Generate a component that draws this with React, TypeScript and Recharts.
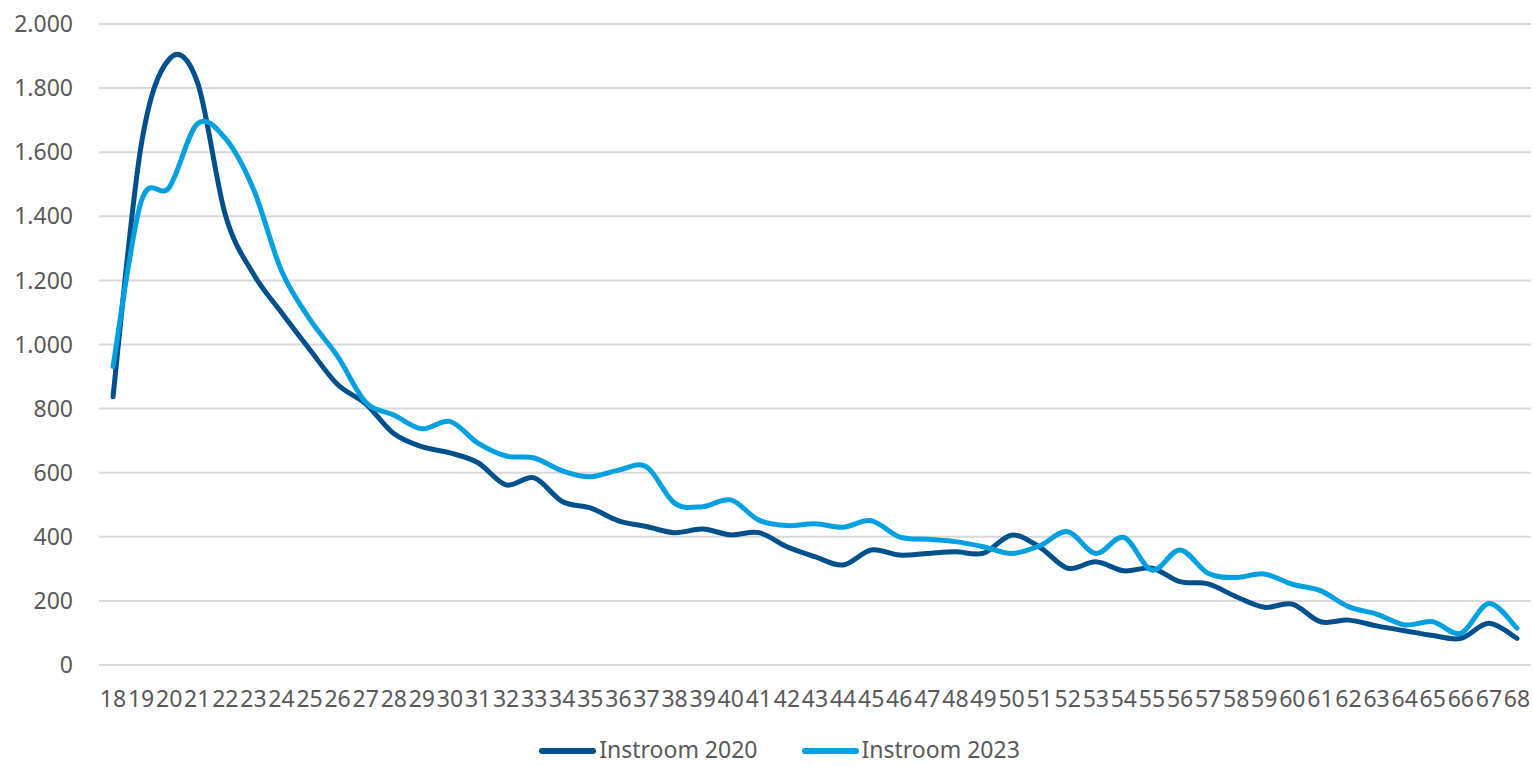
import { LineChart, Line, XAxis, YAxis, CartesianGrid, Legend } from 'recharts';

// ages 18..68
const ages = [
  18, 19, 20, 21, 22, 23, 24, 25, 26, 27, 28, 29, 30, 31, 32, 33, 34, 35, 36, 37, 38, 39, 40, 41, 42, 43,
  44, 45, 46, 47, 48, 49, 50, 51, 52, 53, 54, 55, 56, 57, 58, 59, 60, 61, 62, 63, 64, 65, 66, 67, 68,
];

const instroom2020 = [
  837, 1620, 1890, 1820, 1405, 1220, 1100, 985, 875, 815, 722, 681, 662, 631, 562, 584, 510, 490, 450, 432,
  413, 424, 406, 413, 369, 338, 312, 359, 343, 348, 353, 349, 405, 368, 302, 322, 294, 302, 260, 253, 213,
  180, 190, 135, 140, 122, 107, 92, 83, 130, 83,
];

const instroom2023 = [
  931, 1445, 1490, 1688, 1643, 1485, 1230, 1080, 963, 820, 780, 737, 760, 692, 652, 646, 606, 587, 608, 618,
  505, 494, 515, 452, 435, 441, 430, 450, 400, 392, 385, 369, 348, 372, 416, 348, 398, 296, 359, 286, 273,
  284, 252, 232, 182, 159, 125, 135, 99, 192, 115,
];

const yTicks = [0, 200, 400, 600, 800, 1000, 1200, 1400, 1600, 1800, 2000];

const series = [
  { key: 'y2020', name: 'Instroom 2020', color: '#00508C' },
  { key: 'y2023', name: 'Instroom 2023', color: '#00A0E1' },
];

const data = ages.map((age, i) => ({ age, y2020: instroom2020[i], y2023: instroom2023[i] }));

const FONT = '"Noto Sans", sans-serif';
const TEXT = '#595959';

// dutch thousands separator: 2000 -> 2.000
const fmt = (v: number) => String(v).replace(/\B(?=(\d{3})+(?!\d))/g, '.');

// Excel-like smoothed line (catmull-rom through the points)
function smoothCurve(context: any) {
  let pts: number[][] = [];
  return {
    areaStart() {},
    areaEnd() {},
    lineStart() {
      pts = [];
    },
    point(x: number, y: number) {
      pts.push([+x, +y]);
    },
    lineEnd() {
      if (!pts.length) return;
      context.moveTo(pts[0][0], pts[0][1]);
      for (let i = 0; i < pts.length - 1; i++) {
        const p0 = pts[i - 1] || pts[i];
        const p1 = pts[i];
        const p2 = pts[i + 1];
        const p3 = pts[i + 2] || p2;
        context.bezierCurveTo(
          p1[0] + (p2[0] - p0[0]) / 6,
          p1[1] + (p2[1] - p0[1]) / 6,
          p2[0] - (p3[0] - p1[0]) / 6,
          p2[1] - (p3[1] - p1[1]) / 6,
          p2[0],
          p2[1]
        );
      }
    },
  };
}

function LegendContent() {
  return (
    <div
      style={{
        height: 51,
        boxSizing: 'border-box',
        paddingTop: 23,
        paddingLeft: 28,
        display: 'flex',
        justifyContent: 'center',
        fontFamily: FONT,
        fontSize: 23,
        lineHeight: '23px',
        color: TEXT,
      }}
    >
      {series.map((s, idx) => (
        <div
          key={s.key}
          style={{ display: 'flex', alignItems: 'center', height: 23, marginLeft: idx ? 44 : 0 }}
        >
          <span
            style={{
              display: 'inline-block',
              width: 57,
              height: 6,
              borderRadius: 3,
              background: s.color,
              marginRight: 3,
              marginTop: 3,
            }}
          />
          <span>{s.name}</span>
        </div>
      ))}
    </div>
  );
}

export default function App() {
  return (
    <div style={{ position: 'absolute', left: 0, top: 0, background: '#fff' }}>
      <LineChart width={1533} height={766} data={data} margin={{ top: 24, right: 2, bottom: 0, left: 0 }}>
        <CartesianGrid vertical={false} stroke="#d9d9d9" strokeWidth={2} />
        <XAxis
          dataKey="age"
          interval={0}
          padding={{ left: 14, right: 14 }}
          axisLine={false}
          tickLine={false}
          tickSize={0}
          tickMargin={26}
          height={50}
          tick={{ fill: TEXT, fontSize: 23, fontFamily: FONT }}
        />
        <YAxis
          domain={[0, 2000]}
          ticks={yTicks}
          width={99}
          axisLine={false}
          tickLine={false}
          tickSize={0}
          tickMargin={26}
          tickFormatter={fmt}
          tick={{ fill: TEXT, fontSize: 23, fontFamily: FONT }}
        />
        <Legend verticalAlign="bottom" content={<LegendContent />} />
        {series.map((s) => (
          <Line
            key={s.key}
            dataKey={s.key}
            name={s.name}
            type={smoothCurve as any}
            stroke={s.color}
            strokeWidth={5}
            strokeLinecap="round"
            dot={false}
            activeDot={false}
            isAnimationActive={false}
          />
        ))}
      </LineChart>
    </div>
  );
}
